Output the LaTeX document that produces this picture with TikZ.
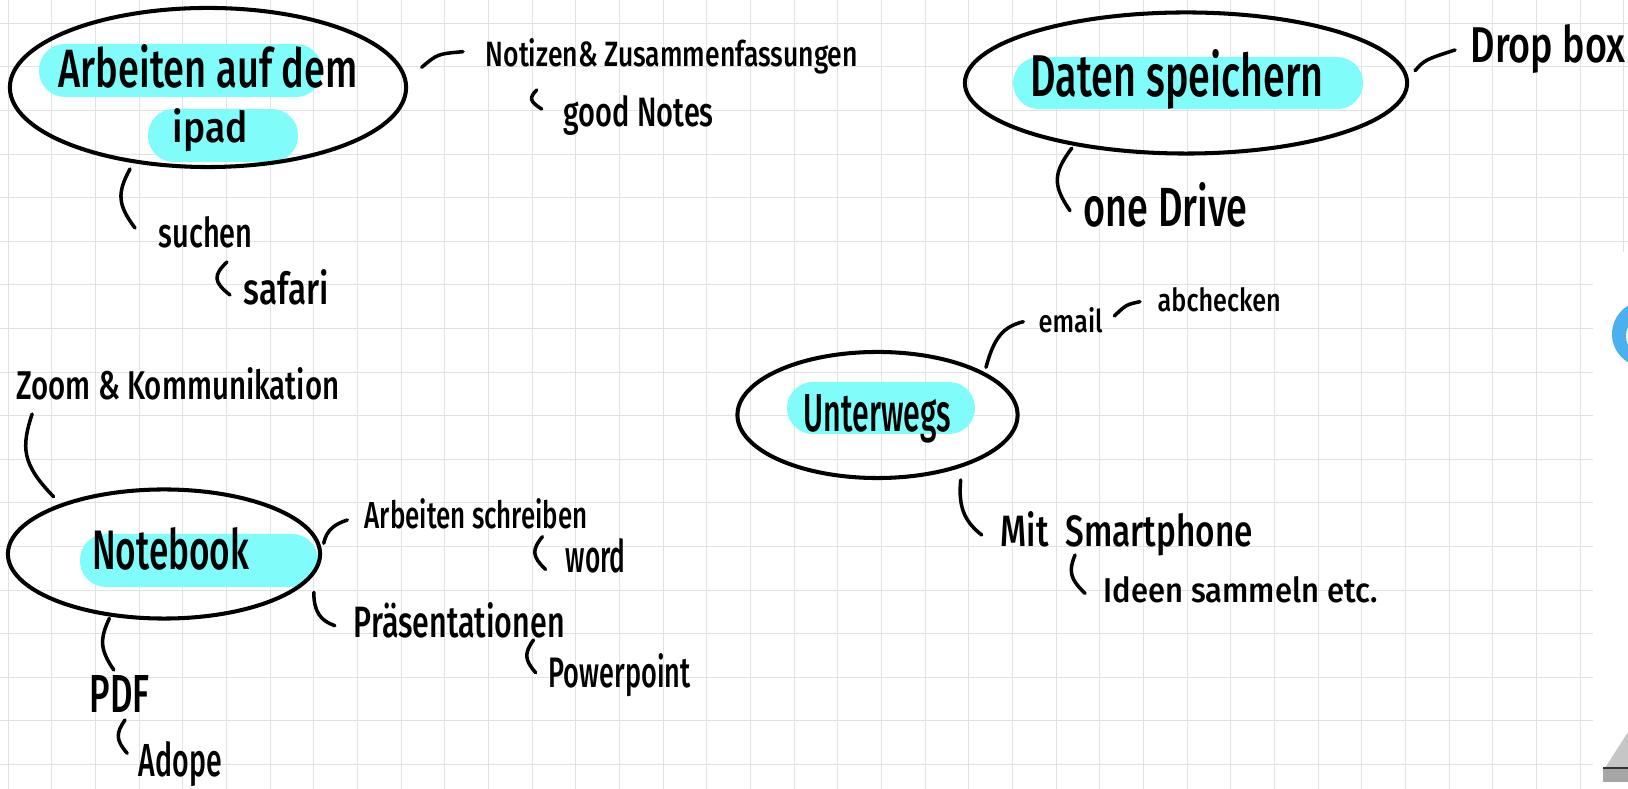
\documentclass[tikz,border=0pt]{standalone}
\usepackage{fontspec}
\setmainfont{Fira Sans}[UprightFont={* Medium}]
\usepackage{graphicx}
\usetikzlibrary{shapes.geometric}
\definecolor{marker}{RGB}{128,253,251}
\definecolor{gridgray}{RGB}{226,226,226}
\definecolor{iconblue}{RGB}{74,176,240}
\newlength{\pxu}
\setlength{\pxu}{0.01cm}
\newcommand{\hand}[3]{\resizebox{#1\pxu}{#2\pxu}{#3}}

\begin{document}
\begin{tikzpicture}[
        x=0.01cm, y=-0.01cm,
        bubble/.style={ellipse,draw,line width=1.15pt,inner sep=0pt},
        note/.style={anchor=base west,inner sep=0pt},
        twig/.style={line width=1pt,line cap=round},
        gridline/.style={gridgray,line width=0.3pt},
        hilite/.style={fill=marker,rounded corners=0.26cm},
    ]
    \useasboundingbox (0,0) rectangle (1628,789);
    \fill[white] (0,0) rectangle (1628,789);
    \foreach \k in {0,...,37}
      \draw[gridline] (8.3+43.66*\k,0) -- (8.3+43.66*\k,789);
    \foreach \k in {0,...,17}
      \draw[gridline] (0,23.3+43.6*\k) -- (1628,23.3+43.6*\k);

    % highlighter
    \fill[hilite] (39,44) rectangle (322,97);
    \fill[hilite] (148,109) rectangle (298,162);
    \fill[hilite] (1013,57) rectangle (1363,109);
    \fill[hilite] (787,382) rectangle (975,434);
    \fill[hilite] (80,534) rectangle (318,587);

    % bubbles
    \node[bubble,minimum width=3.96cm,minimum height=1.59cm] (ipad) at (208,87.5) {};
    \node[bubble,minimum width=4.42cm,minimum height=1.41cm] (daten) at (1186,83) {};
    \node[bubble,minimum width=2.80cm,minimum height=1.26cm] (unterwegs) at (877.5,415) {};
    \node[bubble,minimum width=3.12cm,minimum height=1.29cm] (notebook) at (164,554) {};

    % texts
    \node[note] (arbeiten) at (58,88) {\hand{299}{43}{Arbeiten auf dem}};
    \node[note] (ipadtxt) at (172,143) {\hand{75}{34}{ipad}};
    \node[note] (datentxt) at (1030,97) {\hand{293}{47}{Daten speichern}};
    \node[note] (unterwegstxt) at (803,432) {\hand{147}{37}{Unterwegs}};
    \node[note] (notebooktxt) at (91.5,570) {\hand{157}{42}{Notebook}};
    \node[note] (notizen) at (485,67) {\hand{372}{28}{Notizen\& Zusammenfassungen}};
    \node[note] (goodnotes) at (563,127) {\hand{150}{31}{good Notes}};
    \node[note] (suchen) at (158,248) {\hand{94}{31}{suchen}};
    \node[note] (safari) at (243,305) {\hand{85}{35}{safari}};
    \node[note] (onedrive) at (1083,227) {\hand{164}{44}{one Drive}};
    \node[note] (dropbox) at (1470,63) {\hand{155}{38}{Drop box}};
    \node[note] (email) at (1038,333) {\hand{64}{25}{email}};
    \node[note] (abchecken) at (1157,312) {\hand{123}{24}{abchecken}};
    \node[note] (smartphone) at (1000,547) {\hand{252}{35}{Mit\ \ Smartphone}};
    \node[note] (ideen) at (1103,603) {\hand{274}{26}{Ideen sammeln etc.}};
    \node[note] (zoom) at (15.6,400) {\hand{323}{32}{Zoom \& Kommunikation}};
    \node[note] (schreiben) at (364,529) {\hand{223}{30}{Arbeiten schreiben}};
    \node[note] (word) at (565,573) {\hand{60}{34}{word}};
    \node[note] (praes) at (353,638) {\hand{211}{35}{Präsentationen}};
    \node[note] (powerpoint) at (548,687) {\hand{142}{34}{Powerpoint}};
    \node[note] (pdf) at (89,712) {\hand{60}{37}{PDF}};
    \node[note] (adope) at (138,777) {\hand{83}{35}{Adope}};

    % connector ends
    \coordinate (ipad-s) at (130,169);      \coordinate (suchen-w) at (135,228);
    \coordinate (suchen-s) at (227,262);    \coordinate (safari-w) at (230,295);
    \coordinate (ipad-e) at (421.7,67.3);   \coordinate (notizen-w) at (463,51.7);
    \coordinate (notizen-s) at (536.7,90);  \coordinate (goodnotes-w) at (541.7,109);
    \coordinate (daten-s) at (1071.7,148.3); \coordinate (onedrive-w) at (1070,210.7);
    \coordinate (daten-e) at (1415,70.7);   \coordinate (dropbox-w) at (1455,50);
    \coordinate (unterwegs-ne) at (986,367.3); \coordinate (email-w) at (1023.3,321.7);
    \coordinate (email-e) at (1114.3,316);  \coordinate (abchecken-w) at (1140,301.7);
    \coordinate (unterwegs-s) at (960.7,480); \coordinate (smartphone-w) at (981.7,535);
    \coordinate (smartphone-s) at (1075,555); \coordinate (ideen-w) at (1085,593.3);
    \coordinate (notebook-nw) at (53.6,496.7); \coordinate (zoom-s) at (32.1,414);
    \coordinate (notebook-e) at (323.7,543.3); \coordinate (schreiben-w) at (347.3,520);
    \coordinate (notebook-se) at (313.8,592.3); \coordinate (praes-w) at (334.8,625.7);
    \coordinate (schreiben-s) at (542.4,536.7); \coordinate (word-w) at (545.5,569.3);
    \coordinate (praes-s) at (533.5,640);   \coordinate (powerpoint-w) at (535.7,672.7);
    \coordinate (notebook-s) at (109.4,618.3); \coordinate (pdf-n) at (113.8,670);
    \coordinate (pdf-s) at (125,720);       \coordinate (adope-w) at (127.2,753.3);

    \draw[twig] (ipad-s) .. controls +(-12.8,23.6) and +(-17.8,-23.6) .. (suchen-w);
    \draw[twig] (suchen-s) .. controls +(-13.8,13.2) and +(-16.8,-13.2) .. (safari-w);
    \draw[twig] (ipad-e) .. controls (437.6,53.9) .. (notizen-w);
    \draw[twig] (notizen-s) .. controls +(-7.5,7.6) and +(-12.5,-7.6) .. (goodnotes-w);
    \draw[twig] (daten-s) .. controls +(-18.9,25) and +(-17.2,-25) .. (onedrive-w);
    \draw[twig] (daten-e) .. controls (1425,59.7) .. (dropbox-w);
    \draw[twig] (unterwegs-ne) .. controls +(8,-30) and +(-20,5) .. (email-w);
    \draw[twig] (email-e) .. controls (1126.3,304.6) .. (abchecken-w);
    \draw[twig] (unterwegs-s) .. controls +(-3,30) and +(-15,-12) .. (smartphone-w);
    \draw[twig] (smartphone-s) .. controls +(-6.1,15.3) and +(-16.1,-15.3) .. (ideen-w);
    \draw[twig] (notebook-nw) .. controls +(-32.2,-33) and +(-10.7,33) .. (zoom-s);
    \draw[twig] (notebook-e) .. controls +(3,-14) and +(-12,4) .. (schreiben-w);
    \draw[twig] (notebook-se) .. controls +(0,20) and +(-14,-5) .. (praes-w);
    \draw[twig] (schreiben-s) .. controls +(-10.6,13) and +(-13.8,-13) .. (word-w);
    \draw[twig] (praes-s) .. controls +(-9.3,13) and +(-11.5,-13) .. (powerpoint-w);
    \draw[twig] (notebook-s) .. controls +(-9.7,20.7) and +(-14.1,-20.7) .. (pdf-n);
    \draw[twig] (pdf-s) .. controls +(-9.3,13.3) and +(-11.5,-13.3) .. (adope-w);

    % side panel
    \fill[white] (1593,252) rectangle (1628,789);
    \fill[iconblue] (1645,334) circle [radius=33];
    \fill[white] (1645,336) circle [radius=19];
    \fill[gray!45] (1605,768) -- (1628,732) -- (1628,768) -- cycle;
    \fill[gray!70] (1603,768) rectangle (1628,782);
    \draw[gray!40!black,line width=0.3pt] (1603,768) -- (1628,768);
\end{tikzpicture}
\end{document}
